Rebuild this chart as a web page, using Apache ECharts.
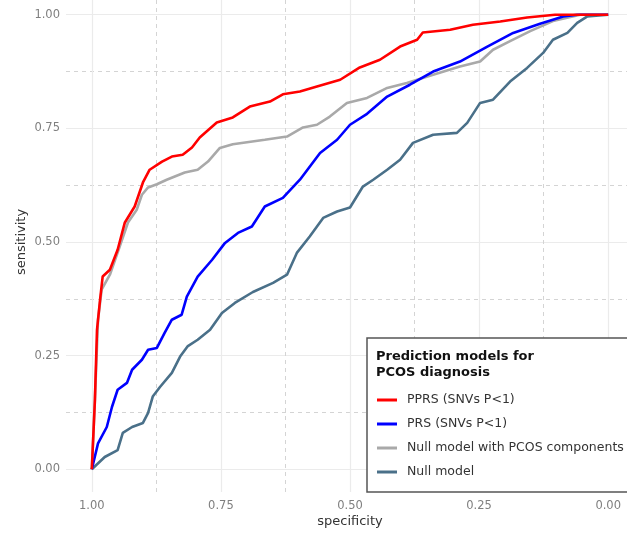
<!DOCTYPE html>
<html>
<head>
<meta charset="utf-8">
<script src="https://cdn.jsdelivr.net/npm/echarts@6/dist/echarts.min.js"></script>
<style>
  html, body { margin: 0; padding: 0; background: #fff; }
  #chart { width: 627px; height: 536px; }
</style>
</head>
<body>
<div id="chart"></div>
<script>
// ROC curves, x = specificity (reversed axis), y = sensitivity
var majorTicks = [0, 0.25, 0.5, 0.75, 1]
var minorTicks = [0.125, 0.375, 0.625, 0.875]

var pprsSpec = [1, 0.994, 0.990, 0.984, 0.979, 0.965, 0.950, 0.936, 0.917, 0.901, 0.888, 0.864, 0.845, 0.824, 0.806, 0.791, 0.758, 0.727, 0.694, 0.655, 0.630, 0.597, 0.564, 0.519, 0.481, 0.442, 0.403, 0.370, 0.359, 0.306, 0.262, 0.209, 0.157, 0.103, 0]
var pprsSens = [0, 0.153, 0.306, 0.373, 0.424, 0.439, 0.483, 0.543, 0.578, 0.631, 0.659, 0.677, 0.688, 0.692, 0.708, 0.730, 0.763, 0.774, 0.798, 0.809, 0.825, 0.831, 0.842, 0.857, 0.884, 0.901, 0.930, 0.945, 0.961, 0.967, 0.978, 0.985, 0.994, 1, 1]

var prsSpec = [1, 0.988, 0.971, 0.961, 0.950, 0.932, 0.922, 0.903, 0.891, 0.874, 0.859, 0.845, 0.826, 0.816, 0.795, 0.767, 0.742, 0.717, 0.690, 0.665, 0.630, 0.597, 0.558, 0.525, 0.500, 0.467, 0.428, 0.384, 0.339, 0.287, 0.234, 0.184, 0.132, 0.087, 0.060, 0]
var prsSens = [0, 0.057, 0.093, 0.137, 0.175, 0.190, 0.219, 0.241, 0.263, 0.267, 0.300, 0.329, 0.340, 0.380, 0.424, 0.461, 0.498, 0.520, 0.534, 0.578, 0.597, 0.637, 0.696, 0.725, 0.758, 0.782, 0.820, 0.846, 0.875, 0.897, 0.930, 0.960, 0.980, 0.996, 1, 1]

var nullPcosSpec = [1, 0.994, 0.988, 0.981, 0.965, 0.950, 0.930, 0.913, 0.903, 0.891, 0.874, 0.855, 0.820, 0.795, 0.775, 0.752, 0.727, 0.665, 0.622, 0.591, 0.564, 0.539, 0.506, 0.467, 0.428, 0.390, 0.339, 0.287, 0.248, 0.223, 0.190, 0.151, 0.107, 0.054, 0]
var nullPcosSens = [0, 0.153, 0.329, 0.395, 0.428, 0.477, 0.543, 0.571, 0.604, 0.620, 0.627, 0.637, 0.653, 0.659, 0.677, 0.707, 0.715, 0.725, 0.732, 0.752, 0.758, 0.776, 0.806, 0.817, 0.839, 0.850, 0.868, 0.886, 0.897, 0.923, 0.942, 0.964, 0.986, 1, 1]

var nullSpec = [1, 0.975, 0.950, 0.940, 0.922, 0.901, 0.891, 0.882, 0.868, 0.845, 0.829, 0.814, 0.795, 0.771, 0.748, 0.723, 0.688, 0.649, 0.622, 0.603, 0.578, 0.552, 0.525, 0.500, 0.475, 0.455, 0.428, 0.403, 0.378, 0.339, 0.293, 0.273, 0.248, 0.223, 0.190, 0.157, 0.126, 0.107, 0.079, 0.060, 0.041, 0]
var nullSens = [0, 0.027, 0.042, 0.080, 0.093, 0.102, 0.124, 0.160, 0.181, 0.212, 0.248, 0.271, 0.285, 0.307, 0.344, 0.366, 0.390, 0.410, 0.428, 0.476, 0.512, 0.553, 0.567, 0.576, 0.622, 0.637, 0.659, 0.681, 0.718, 0.736, 0.740, 0.762, 0.806, 0.813, 0.853, 0.883, 0.916, 0.945, 0.960, 0.982, 0.996, 1]

var seriesNames = ['PPRS (SNVs P<1)', 'PRS (SNVs P<1)', 'Null model with PCOS components', 'Null model']
var seriesColors = ['#ff0000', '#0000ff', '#a9a9a9', '#4a7089']

function pairs(xs, ys) {
  return xs.map(function (x, i) { return [x, ys[i]] })
}

var chart = echarts.init(document.getElementById('chart'), null, { renderer: 'canvas' })

var fontFamily = '"DejaVu Sans", sans-serif'
var majorLine = { show: true, lineStyle: { color: '#ebebeb', width: 1.2, type: 'solid' } }
var minorLine = { show: true, lineStyle: { color: '#d4d4d4', width: 1, type: [4, 4] } }

function tickLabel(margin) {
  return {
    customValues: majorTicks,
    margin: margin,
    color: '#7f7f7f',
    fontSize: 11.5,
    fontFamily: fontFamily,
    formatter: function (v) { return v.toFixed(2) }
  }
}

function baseAxis(extra) {
  return Object.assign({
    type: 'value',
    min: -0.05,
    max: 1.05,
    axisLine: { show: false },
    axisTick: { show: false, customValues: majorTicks },
    splitLine: majorLine,
    nameLocation: 'middle',
    nameMoveOverlap: false,
    nameTextStyle: { fontSize: 13, color: '#333', fontFamily: fontFamily }
  }, extra)
}

function minorAxis(extra) {
  return Object.assign({
    type: 'value',
    min: -0.05,
    max: 1.05,
    axisLine: { show: false },
    axisTick: { show: false, customValues: minorTicks },
    axisLabel: { show: false },
    splitLine: minorLine
  }, extra)
}

chart.setOption({
  animation: false,
  backgroundColor: '#fff',
  grid: { left: 66, right: -7, top: -8, bottom: 44, outerBoundsMode: 'none' },
  title: {
    text: 'Prediction models for\nPCOS diagnosis',
    left: 371,
    top: 344,
    z: 10,
    textStyle: { fontSize: 13, fontWeight: 'bold', color: '#111', fontFamily: fontFamily, lineHeight: 16 }
  },
  legend: {
    orient: 'vertical',
    left: 367,
    top: 338,
    padding: [55, 20, 13, 10],
    itemGap: 10,
    itemWidth: 20,
    itemHeight: 3,
    icon: 'rect',
    backgroundColor: '#fff',
    borderColor: '#555',
    borderWidth: 1.5,
    data: seriesNames,
    textStyle: { fontSize: 12.5, color: '#333', fontFamily: fontFamily, lineHeight: 14, padding: [0, 0, 0, 5] }
  },
  xAxis: [
    baseAxis({ inverse: true, name: 'specificity', nameGap: 23, axisLabel: tickLabel(8) }),
    minorAxis({ inverse: true })
  ],
  yAxis: [
    baseAxis({ name: 'sensitivity', nameGap: 38, axisLabel: tickLabel(6) }),
    minorAxis({})
  ],
  series: [
    { name: seriesNames[3], data: pairs(nullSpec, nullSens), color: seriesColors[3] },
    { name: seriesNames[2], data: pairs(nullPcosSpec, nullPcosSens), color: seriesColors[2] },
    { name: seriesNames[1], data: pairs(prsSpec, prsSens), color: seriesColors[1] },
    { name: seriesNames[0], data: pairs(pprsSpec, pprsSens), color: seriesColors[0] }
  ].map(function (s) {
    return Object.assign({
      type: 'line',
      xAxisIndex: 0,
      yAxisIndex: 0,
      symbol: 'none',
      lineStyle: { width: 2.6, color: s.color },
      itemStyle: { color: s.color },
      z: 3
    }, s)
  })
})
</script>
</body>
</html>
